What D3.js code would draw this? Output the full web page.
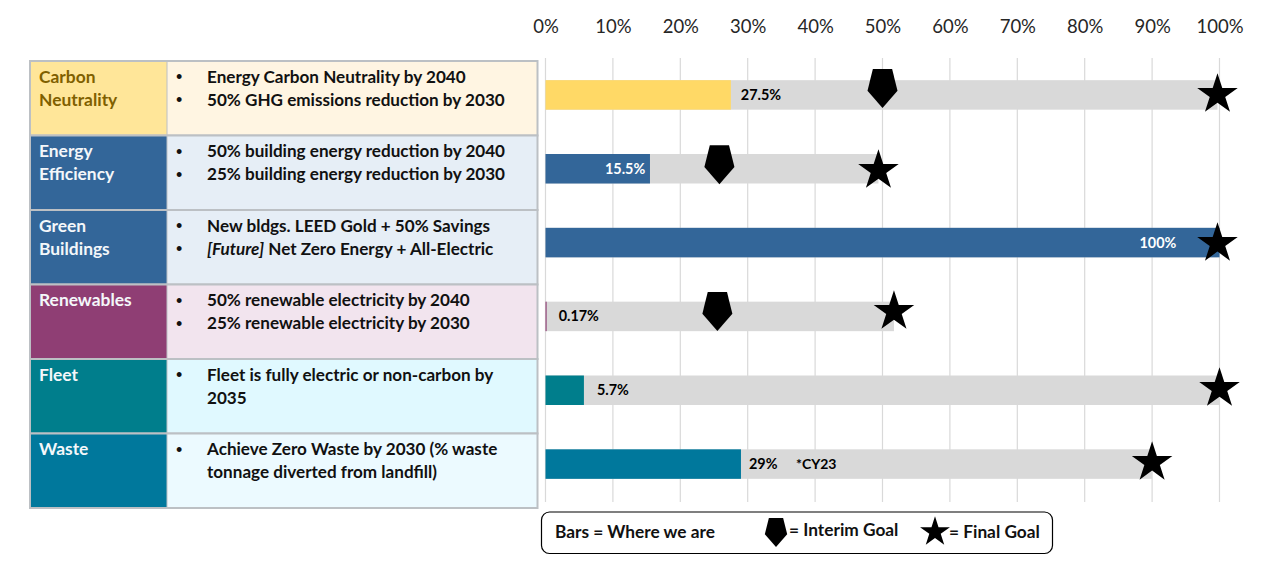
<!DOCTYPE html>
<html>
<head>
<meta charset="utf-8">
<script src="https://cdn.jsdelivr.net/npm/d3@7"></script>
<style>
body { margin: 0; background: #fff; }
text { font-family: Lato, "Open Sans", sans-serif; }
</style>
</head>
<body>
<div id="chart"></div>
<script>
// data
const categories = ["Carbon Neutrality", "Energy Efficiency", "Green Buildings", "Renewables", "Fleet", "Waste"];
const categoryLines = [["Carbon", "Neutrality"], ["Energy", "Efficiency"], ["Green", "Buildings"], ["Renewables"], ["Fleet"], ["Waste"]];
const goalBullets = [
    [["Energy Carbon Neutrality by 2040"], ["50% GHG emissions reduction by 2030"]],
    [["50% building energy reduction by 2040"], ["25% building energy reduction by 2030"]],
    [["New bldgs. LEED Gold + 50% Savings"], ["[Future] Net Zero Energy + All-Electric"]],
    [["50% renewable electricity by 2040"], ["25% renewable electricity by 2030"]],
    [["Fleet is fully electric or non-carbon by", "2035"]],
    [["Achieve Zero Waste by 2030 (% waste", "tonnage diverted from landfill)"]]
];
const currentValues = [27.5, 15.5, 100, 0.17, 5.7, 29];
const valueLabels = ["27.5%", "15.5%", "100%", "0.17%", "5.7%", "29%"];
const interimGoals = [50, 25.8, null, 25.5, null, null];
const finalGoals = [99.7, 49.4, 99.7, 51.7, 100, 90];
const legendTexts = ["Bars = Where we are", "= Interim Goal", "= Final Goal"];
const footnote = "*CY23";

// colours, one per row
const barColors = ["#ffd966", "#336699", "#336699", "#8f3e74", "#007e8c", "#00789c"];
const headColors = ["#ffe699", "#336699", "#336699", "#8f3e74", "#007e8c", "#00789c"];
const headText = ["#7f6000", "#f4f7fa", "#f4f7fa", "#f4f7fa", "#f4f7fa", "#f4f7fa"];
const cellColors = ["#fff5e2", "#e6eef6", "#e6eef6", "#f2e4ee", "#e0f9ff", "#ecfaff"];
const labelColors = ["#000", "#fff", "#fff", "#000", "#000", "#000"];
// layout nudges per row: the markers were placed by hand in the original
const labelOffsets = [10, -45, -80, 12, 13, 8];
const interimNudge = [-6.5, -4, 0, -5, 0, 0];
const finalNudge = [-0.4, 1.75, 0.9, -4.9, -1.75, -1.6];

const svg = d3.select("#chart").append("svg")
    .attr("width", 1280)
    .attr("height", 576);

const x = d3.scaleLinear().domain([0, 100]).range([545.5, 1219.5]);
const tableY = d3.scaleBand().domain(categories).range([61, 508]);
const plotY = d3.scaleBand().domain(categories).range([58, 501]);
const barHeight = 29.5;
const barMid = d => plotY(d) + plotY.bandwidth() / 2;
const barY = d => barMid(d) - barHeight / 2;

// gridlines
svg.append("g").selectAll("line")
    .data(x.ticks(10))
    .join("line")
        .attr("x1", d => x(d))
        .attr("x2", d => x(d))
        .attr("y1", 58)
        .attr("y2", 502)
        .attr("stroke", "#d9d9d9")
        .attr("stroke-width", 1.2);

// percent axis on top
const axis = svg.append("g")
    .attr("transform", "translate(0,36)")
    .call(d3.axisTop(x).ticks(10).tickSize(0).tickFormat(d => d + "%"));
axis.select(".domain").remove();
axis.selectAll("text")
    .attr("font-family", "Lato")
    .attr("font-size", 18.5)
    .attr("fill", "#262626")
    .attr("dy", 0);

// table on the left
const rows = svg.append("g").selectAll("g")
    .data(categories)
    .join("g")
        .attr("transform", d => `translate(0,${tableY(d)})`);

rows.append("rect")
    .attr("x", 30).attr("width", 137)
    .attr("height", tableY.bandwidth())
    .attr("fill", (d, i) => headColors[i]);
rows.append("rect")
    .attr("x", 167).attr("width", 370.5)
    .attr("height", tableY.bandwidth())
    .attr("fill", (d, i) => cellColors[i]);
rows.append("rect")
    .attr("x", 30).attr("width", 507.5)
    .attr("height", tableY.bandwidth())
    .attr("fill", "none")
    .attr("stroke", "#bcc0c4")
    .attr("stroke-width", 2);
rows.append("line")
    .attr("x1", 167).attr("x2", 167)
    .attr("y2", tableY.bandwidth())
    .attr("stroke", "#bcc0c4")
    .attr("stroke-width", 1);

rows.each(function(d, i) {
    const row = d3.select(this);
    categoryLines[i].forEach((t, k) => {
        row.append("text")
            .attr("x", 39)
            .attr("y", 21.5 + k * 23)
            .attr("font-size", 17.4)
            .attr("font-weight", 700)
            .attr("fill", headText[i])
            .text(t);
    });
    let line = 0;
    goalBullets[i].forEach(bullet => {
        row.append("text")
            .attr("x", 176)
            .attr("y", 22 + line * 23)
            .attr("font-size", 18)
            .style("font-family", "'Liberation Sans'")
            .attr("fill", "#111")
            .text("•");
        bullet.forEach(t => {
            const label = row.append("text")
                .attr("x", 207)
                .attr("y", 21.5 + line * 23)
                .attr("font-size", 17.1)
                .attr("font-weight", 700)
                .attr("fill", "#111");
            const m = t.match(/^(\[.*?\])(.*)$/);
            if (m) {
                label.append("tspan").attr("font-style", "italic").text(m[1]);
                label.append("tspan").text(m[2]);
            } else {
                label.text(t);
            }
            line++;
        });
    });
});

// grey track up to the final goal
svg.append("g").selectAll("rect")
    .data(categories)
    .join("rect")
        .attr("x", x(0))
        .attr("y", barY)
        .attr("width", (d, i) => x(finalGoals[i]) - x(0))
        .attr("height", barHeight)
        .attr("fill", "#d9d9d9");

// progress bars
svg.append("g").selectAll("rect")
    .data(categories)
    .join("rect")
        .attr("x", x(0))
        .attr("y", barY)
        .attr("width", (d, i) => x(currentValues[i]) - x(0))
        .attr("height", barHeight)
        .attr("fill", (d, i) => barColors[i]);

svg.append("g").selectAll("text")
    .data(categories)
    .join("text")
        .attr("x", (d, i) => x(currentValues[i]) + labelOffsets[i])
        .attr("y", d => barMid(d) + 5)
        .attr("font-size", 14.4)
        .attr("font-weight", 700)
        .attr("fill", (d, i) => labelColors[i])
        .text((d, i) => valueLabels[i]);

svg.append("text")
    .attr("x", x(currentValues[5]) + 55)
    .attr("y", barMid(categories[5]) + 5)
    .attr("font-size", 14)
    .attr("font-weight", 700)
    .attr("fill", "#000")
    .text(footnote);

// interim goal shape, flat on top with a point at the bottom
const pentagon = {
    draw(context, size) {
        const h = Math.sqrt(size);
        const w = h * 0.77;
        context.moveTo(-w * 0.32, -h * 0.5);
        context.lineTo(w * 0.32, -h * 0.5);
        context.lineTo(w * 0.5, h * 0.06);
        context.lineTo(0, h * 0.5);
        context.lineTo(-w * 0.5, h * 0.06);
        context.closePath();
    }
};
const pentagonPath = d3.symbol(pentagon, 39 * 39)();
const starPath = d3.symbol(d3.symbolStar, 510)();

svg.append("g").selectAll("path")
    .data(categories.filter((d, i) => interimGoals[i] !== null))
    .join("path")
        .attr("d", pentagonPath)
        .attr("fill", "#000")
        .attr("transform", d => {
            const i = categories.indexOf(d);
            return `translate(${x(interimGoals[i])},${barMid(d) + interimNudge[i]})`;
        });

svg.append("g").selectAll("path")
    .data(categories)
    .join("path")
        .attr("d", starPath)
        .attr("fill", "#000")
        .attr("transform", (d, i) => `translate(${x(finalGoals[i])},${barMid(d) + finalNudge[i]})`);

// legend box
const legend = svg.append("g");
legend.append("rect")
    .attr("x", 541.5).attr("y", 512)
    .attr("width", 511).attr("height", 41.5)
    .attr("rx", 8)
    .attr("fill", "#fff")
    .attr("stroke", "#000")
    .attr("stroke-width", 1.2);
legend.selectAll("text")
    .data(legendTexts)
    .join("text")
        .attr("x", (d, i) => [555, 789, 949][i])
        .attr("y", (d, i) => [537.5, 535.5, 538][i])
        .attr("font-size", 17.3)
        .attr("font-weight", 700)
        .attr("fill", "#111")
        .text(d => d);
legend.append("path")
    .attr("d", d3.symbol(pentagon, 29 * 29)())
    .attr("transform", "translate(776,532.5)");
legend.append("path")
    .attr("d", d3.symbol(d3.symbolStar, 277)())
    .attr("transform", "translate(935,532)");
</script>
</body>
</html>
